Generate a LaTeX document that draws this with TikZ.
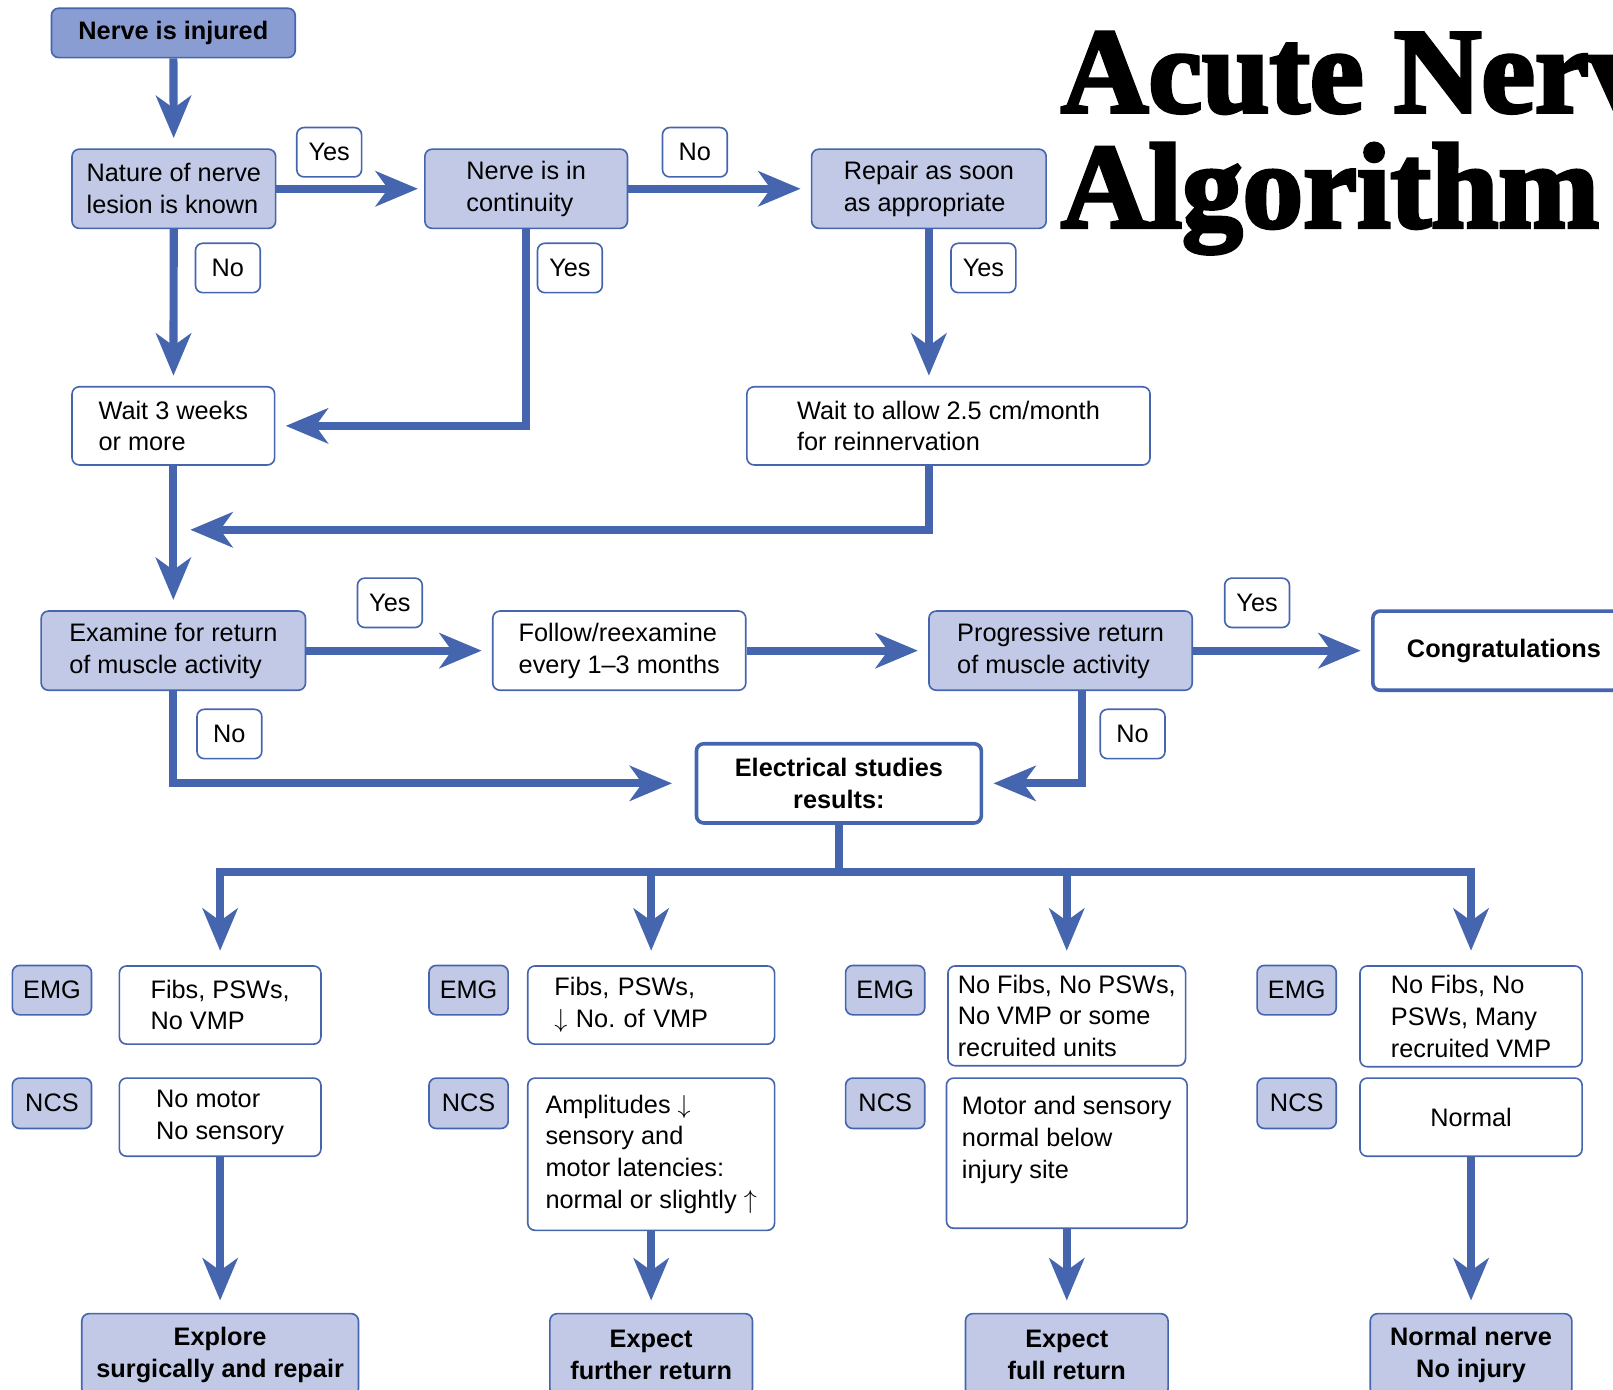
\documentclass[tikz,border=0pt]{standalone}
\usepackage{fontspec}
\setmainfont{Liberation Sans}
\newfontfamily\titlefont{Liberation Serif}[FakeBold=3]
\usetikzlibrary{arrows.meta}
\definecolor{nblue}{RGB}{69,101,174}
\definecolor{nlight}{RGB}{194,201,230}
\definecolor{ndark}{RGB}{138,157,210}
\tikzset{
    box/.style={draw=nblue, line width=0.9pt, rounded corners=4pt, align=left, inner sep=2pt,
        font=\fontsize{14}{17.5}\selectfont},
    lightbox/.style={box, fill=nlight},
    whitebox/.style={box, fill=white},
    endbox/.style={box, fill=nlight, align=center, font=\fontsize{14}{17.5}\selectfont\bfseries},
    tag/.style={box, fill=white, align=center, minimum width=1.26cm, minimum height=0.96cm},
    testtag/.style={box, fill=nlight, align=center, minimum width=1.54cm, minimum height=0.96cm},
    flow/.style={draw=nblue, line width=4.5pt, -{Stealth[length=8.2mm,width=6.8mm,inset=2.4mm]}, shorten >=2mm},
    bar/.style={draw=nblue, line width=4.5pt}
}
\begin{document}
\begin{tikzpicture}[x=0.02cm, y=-0.02cm]
    \useasboundingbox (0,0) rectangle (1568,1351);
    \clip (0,0) rectangle (1568,1351);
    \node[anchor=base west, inner sep=0, font=\titlefont\bfseries\fontsize{67}{67}\selectfont] (title1) at (1031,109) {Acute Nerve};
    \node[anchor=base west, inner sep=0, font=\titlefont\bfseries\fontsize{67}{67}\selectfont] (title2) at (1031,221) {Algorithm};

    \node[box, fill=ndark, align=center, minimum width=4.74cm, minimum height=0.96cm, font=\fontsize{14}{17.5}\selectfont\bfseries] (injured) at (168.5,32) {Nerve is injured};
    \node[lightbox, minimum width=3.96cm, minimum height=1.54cm] (nature) at (169,183.5) {Nature of nerve\\lesion is known};
    \node[lightbox, minimum width=3.94cm, minimum height=1.54cm] (continuity) at (511.5,183.5) {Nerve is in\\continuity};
    \node[lightbox, minimum width=4.56cm, minimum height=1.54cm] (repair) at (903,183.5) {Repair as soon\\as appropriate};
    \node[whitebox, minimum width=3.94cm, minimum height=1.52cm] (wait3) at (168.5,414) {Wait 3 weeks\\or more};
    \node[whitebox, minimum width=7.84cm, minimum height=1.52cm] (waitallow) at (922,414) {Wait to allow 2.5 cm/month\\for reinnervation};
    \node[tag] (yes1) at (320,148) {Yes};
    \node[tag] (no2) at (675.5,148) {No};
    \node[tag] (no1) at (221.5,260.5) {No};
    \node[tag] (yes2) at (554,260.5) {Yes};
    \node[tag] (yes3) at (956,260.5) {Yes};
    \coordinate (join1) at (168,515);

    \node[lightbox, minimum width=5.14cm, minimum height=1.54cm] (examine) at (168.5,632.5) {Examine for return\\of muscle activity};
    \node[whitebox, minimum width=4.92cm, minimum height=1.54cm] (follow) at (602,632.5) {Follow/reexamine\\every 1--3 months};
    \node[lightbox, minimum width=5.12cm, minimum height=1.54cm] (progressive) at (1031,632.5) {Progressive return\\of muscle activity};
    \node[box, fill=white, line width=2pt, minimum width=5.1cm, minimum height=1.54cm, font=\fontsize{14}{17.5}\selectfont\bfseries] (congrats) at (1462,632.5) {Congratulations};
    \node[tag] (yes4) at (379,586) {Yes};
    \node[tag] (yes5) at (1222,586) {Yes};
    \node[tag] (no3) at (223,713.5) {No};
    \node[tag] (no4) at (1101,713.5) {No};
    \node[box, fill=white, line width=2pt, align=center, minimum width=5.54cm, minimum height=1.54cm, font=\fontsize{14}{17.5}\selectfont\bfseries] (electrical) at (815.5,761.5) {Electrical studies\\results:};
    \coordinate (bus) at (815.5,848);

    \foreach \i/\x in {1/50.5,2/455.5,3/860.5,4/1260.5} {
        \node[testtag] (emgtag\i) at (\x,962.5) {EMG};
        \node[testtag, minimum height=0.98cm] (ncstag\i) at (\x,1072.5) {NCS};
    }
    \node[whitebox, minimum width=3.92cm, minimum height=1.52cm] (emg1) at (214,977) {Fibs, PSWs,\\No VMP};
    \node[whitebox, minimum width=3.92cm, minimum height=1.52cm] (ncs1) at (214,1086) {No motor\\No sensory};
    \node[whitebox, text width=3.76cm, inner xsep=0.52cm, minimum height=1.52cm] (emg2) at (633,977) {Fibs, PSWs,\\$\downarrow$ No.\ of VMP};
    \node[whitebox, minimum width=4.8cm, minimum height=2.96cm] (ncs2) at (633,1122) {Amplitudes $\downarrow$\\sensory and\\motor latencies:\\normal or slightly $\uparrow$};
    \node[whitebox, minimum width=4.62cm, minimum height=1.94cm] (emg3) at (1037,987.5) {No Fibs, No PSWs,\\No VMP or some\\recruited units};
    \node[whitebox, minimum width=4.68cm, minimum height=2.92cm] (ncs3) at (1037,1121) {Motor and sensory\\normal below\\injury site\\\mbox{}};
    \node[whitebox, minimum width=4.32cm, minimum height=1.96cm] (emg4) at (1430,988) {No Fibs, No\\PSWs, Many\\recruited VMP};
    \node[whitebox, align=center, minimum width=4.32cm, minimum height=1.52cm] (ncs4) at (1430,1086) {Normal};
    \node[endbox, minimum width=5.38cm, minimum height=1.6cm] (out1) at (214,1317) {Explore\\surgically and repair};
    \node[endbox, minimum width=3.94cm, minimum height=1.6cm] (out2) at (633,1317) {Expect\\further return};
    \node[endbox, minimum width=3.94cm, minimum height=1.6cm] (out3) at (1037,1317) {Expect\\full return};
    \node[endbox, minimum width=3.92cm, minimum height=1.6cm] (out4) at (1430,1317) {Normal nerve\\No injury};

    \draw[flow] (injured) -- (nature);
    \draw[flow, shorten >=1.2mm] (nature) -- (continuity);
    \draw[flow] (continuity) -- (repair);
    \draw[flow] (nature) -- (wait3);
    \draw[flow] (repair) -- (repair |- waitallow.north);
    \draw[flow] (continuity) |- (wait3);
    \draw[flow, shorten >=3.4mm] (repair.south |- waitallow.south) |- (join1);
    \draw[flow] (wait3) -- (examine);
    \draw[flow] (examine) -- (follow);
    \draw[flow] (follow) -- (progressive);
    \draw[flow] (progressive) -- (congrats);
    \draw[flow, shorten >=4.4mm] (examine) |- (electrical);
    \draw[flow] ([xshift=0.42cm]progressive.south) |- (electrical);
    \draw[bar] (electrical) -- (bus);
    \foreach \n in {emg1,emg2,emg3,emg4}
        \draw[flow, shorten >=2.8mm] (bus) -| (\n);
    \foreach \i in {1,2,3,4}
        \draw[flow, shorten >=2.4mm] (ncs\i) -- (out\i);
\end{tikzpicture}
\end{document}
